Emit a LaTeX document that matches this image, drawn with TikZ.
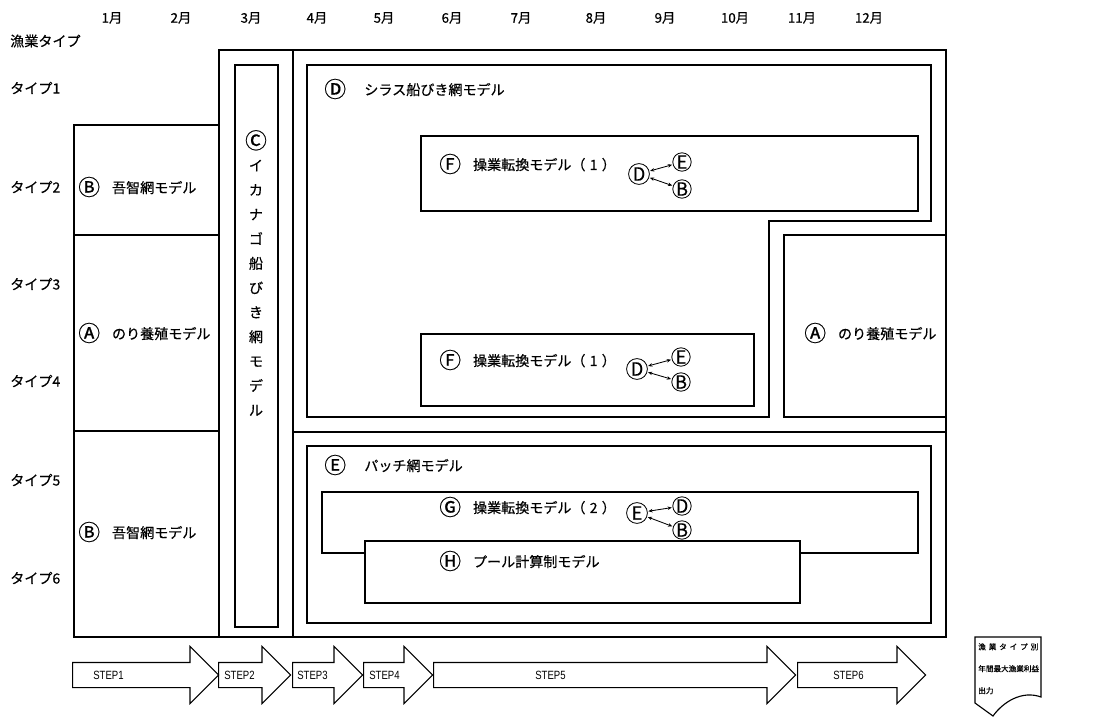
\documentclass[tikz,border=0pt]{standalone}
\usepackage{fontspec}
\setmainfont{Noto Sans CJK JP}[FakeBold=0.5]
\newfontfamily\stepfont{Liberation Sans}[FakeStretch=0.8]
\usetikzlibrary{shapes.arrows,arrows.meta}

\newcommand{\circletter}[1]{\raisebox{-0.3ex}{\scalebox{1.55}{#1}}}

\tikzset{
  frame/.style={draw, line width=0.8pt},
  lbl/.style={anchor=west, inner sep=0pt, font=\fontsize{10}{11}\selectfont},
  mon/.style={inner sep=0pt, font=\fontsize{9.5}{10}\selectfont},
  cir/.style={draw, circle, inner sep=0pt, minimum size=0.46cm, line width=0.6pt, font=\fontsize{13}{13}\selectfont},
  rel/.style={{Stealth[length=3pt,width=2.5pt]}-{Stealth[length=3pt,width=2.5pt]}, line width=0.6pt, shorten <=0.5pt, shorten >=0.5pt},
  steparrow/.style={draw, line width=0.8pt, single arrow, anchor=tail, single arrow head extend=0.4cm,
    text height=0.4cm, text depth=0cm, inner ysep=0.1cm, inner xsep=0pt},
  steplbl/.style={anchor=west, inner sep=0pt, font=\stepfont\fontsize{8.5}{9}\selectfont}
}

\begin{document}
\begin{tikzpicture}[x=0.025cm,y=-0.025cm]
\useasboundingbox (0,0) rectangle (1106,724);

% header
\node[lbl] (hdr) at (10,41) {漁業タイプ};
\node[mon] (m1) at (112,18) {1月};
\node[mon] (m2) at (181,18) {2月};
\node[mon] (m3) at (251,18) {3月};
\node[mon] (m4) at (317,18) {4月};
\node[mon] (m5) at (384,18) {5月};
\node[mon] (m6) at (452,18) {6月};
\node[mon] (m7) at (521,18) {7月};
\node[mon] (m8) at (596,18) {8月};
\node[mon] (m9) at (665,18) {9月};
\node[mon] (m10) at (735,18) {10月};
\node[mon] (m11) at (802,18) {11月};
\node[mon] (m12) at (869,18) {12月};

\node[lbl] (t1) at (10,88) {タイプ1};
\node[lbl] (t2) at (10,187) {タイプ2};
\node[lbl] (t3) at (10,284) {タイプ3};
\node[lbl] (t4) at (10,381) {タイプ4};
\node[lbl] (t5) at (10,480) {タイプ5};
\node[lbl] (t6) at (10,578) {タイプ6};

% left column
\draw[frame] (74,125) rectangle (219,637);
\draw[frame] (74,235) -- (219,235);
\draw[frame] (74,431) -- (219,431);
\node[lbl] (gochi1) at (78,187) {\circletter{Ⓑ}\hspace{0.85em}吾智網モデル};
\node[lbl] (nori1) at (78,333) {\circletter{Ⓐ}\hspace{0.85em}のり養殖モデル};
\node[lbl] (gochi2) at (78,532) {\circletter{Ⓑ}\hspace{0.85em}吾智網モデル};

% outer frame and ikanago column
\draw[frame] (219,50) rectangle (946,637);
\draw[frame] (293,50) -- (293,637);
\draw[frame] (235,65) rectangle (278,627);
\node[align=center, inner sep=0pt, font=\fontsize{10}{17.4}\selectfont] (ikanago) at (256,273)
  {\circletter{Ⓒ}\\イ\\カ\\ナ\\ゴ\\船\\び\\き\\網\\モ\\デ\\ル};

% shirasu region
\draw[frame] (307,65) -- (931,65) -- (931,221) -- (769,221) -- (769,417) -- (307,417) -- cycle;
\node[lbl] (shirasu) at (324,89) {\circletter{Ⓓ}\hspace{1.3em}シラス船びき網モデル};
\draw[frame] (421,136) rectangle (918,211);
\node[lbl] (tenkan1) at (439,164) {\circletter{Ⓕ}\hspace{0.85em}操業転換モデル（\hspace{0.3em}1\hspace{0.3em}）};
\node[cir, minimum size=0.52cm] (f1d) at (639,174) {D};
\node[cir] (f1e) at (682,162) {E};
\node[cir] (f1b) at (682,189) {B};
\draw[rel] (f1d) -- (f1e);
\draw[rel] (f1d) -- (f1b);
\draw[frame] (421,334) rectangle (754,406);
\node[lbl] (tenkan2) at (439,360) {\circletter{Ⓕ}\hspace{0.85em}操業転換モデル（\hspace{0.3em}1\hspace{0.3em}）};
\node[cir, minimum size=0.52cm] (f2d) at (637,369) {D};
\node[cir] (f2e) at (681,357) {E};
\node[cir] (f2b) at (681,382) {B};
\draw[rel] (f2d) -- (f2e);
\draw[rel] (f2d) -- (f2b);

% nori right
\draw[frame] (784,235) rectangle (946,417);
\node[lbl] (nori2) at (804,333) {\circletter{Ⓐ}\hspace{0.85em}のり養殖モデル};

% patch region
\draw[frame] (293,432) -- (946,432);
\draw[frame] (307,446) rectangle (931,623);
\node[lbl] (patch) at (324,465) {\circletter{Ⓔ}\hspace{1.3em}パッチ網モデル};
\draw[frame] (322,492) rectangle (918,553);
\node[lbl] (tenkan3) at (439,507) {\circletter{Ⓖ}\hspace{0.85em}操業転換モデル（\hspace{0.3em}2\hspace{0.3em}）};
\node[cir, minimum size=0.52cm] (ge) at (637,513) {E};
\node[cir] (gd) at (682,506) {D};
\node[cir] (gb) at (682,530) {B};
\draw[rel] (ge) -- (gd);
\draw[rel] (ge) -- (gb);
\draw[frame, fill=white] (365,541) rectangle (800,603);
\node[lbl] (pool) at (439,561) {\circletter{Ⓗ}\hspace{0.85em}プール計算制モデル};

% steps
\node[steparrow, minimum height=146*0.025cm] (s1) at (72,675) {};
\node[steparrow, minimum height=72*0.025cm] (s2) at (218,675) {};
\node[steparrow, minimum height=70*0.025cm] (s3) at (292,675) {};
\node[steparrow, minimum height=69*0.025cm] (s4) at (363,675) {};
\node[steparrow, minimum height=362*0.025cm] (s5) at (433,675) {};
\node[steparrow, minimum height=128*0.025cm] (s6) at (797,675) {};
\node[steplbl] (l1) at (93,675) {STEP1};
\node[steplbl] (l2) at (224,675) {STEP2};
\node[steplbl] (l3) at (297,675) {STEP3};
\node[steplbl] (l4) at (369,675) {STEP4};
\node[steplbl] (l5) at (535,675) {STEP5};
\node[steplbl] (l6) at (833,675) {STEP6};

% output document
\draw[frame] (975,637) -- (1041,637) -- (1041,697) .. controls (1022,690) and (1003,702) .. (993,716)
  -- (975,703) -- cycle;
\node[anchor=north west, inner sep=0pt, align=left, font=\fontsize{5.4}{15.6}\selectfont] (out) at (978,643)
  {\makebox[1.5cm][l]{漁\hfill 業\hfill タ\hfill イ\hfill プ\hfill 別}\\年間最大漁業利益\\出力};
\end{tikzpicture}
\end{document}
